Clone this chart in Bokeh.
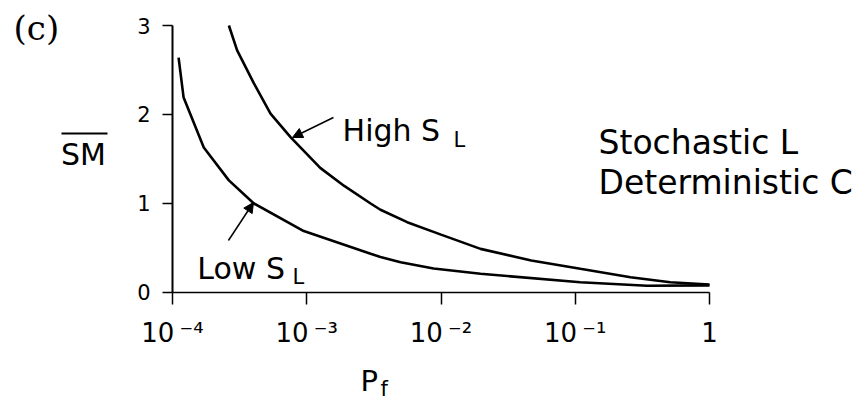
from bokeh.plotting import figure
from bokeh.models import FixedTicker, Label, Arrow, NormalHead, Range1d
from bokeh.embed import file_html
from bokeh.resources import INLINE

# ---- data ----
high_P = [2.63e-4, 3.03e-4, 4.04e-4, 5.37e-4, 7.57e-4, 1.26e-3, 1.89e-3, 2.99e-3, 3.54e-3,
          5.6e-3, 1.0e-2, 1.97e-2, 4.7e-2, 0.109, 0.258, 0.51, 1.0]
high_SM = [3.0, 2.72, 2.35, 2.01, 1.745, 1.40, 1.20, 1.00, 0.93,
           0.79, 0.65, 0.49, 0.36, 0.266, 0.172, 0.116, 0.09]

low_P = [1.11e-4, 1.21e-4, 1.71e-4, 2.63e-4, 4.04e-4, 9.5e-4, 2.99e-3, 3.54e-3, 5.0e-3,
         8.8e-3, 1.97e-2, 0.109, 0.343, 1.0]
low_SM = [2.64, 2.19, 1.63, 1.26, 1.00, 0.69, 0.435, 0.40, 0.34,
          0.27, 0.21, 0.116, 0.075, 0.08]

x_ticks = [1e-4, 1e-3, 1e-2, 1e-1, 1.0]
x_tick_labels = ["10\u2009\u207b\u2074", "10\u2009\u207b\u00b3", "10\u2009\u207b\u00b2", "10\u2009\u207b\u00b9", "1"]
y_ticks = [0, 1, 2, 3]

FONT = "DejaVu Sans"

# frame covers the whole canvas; axes are pinned with fixed_location
p = figure(width=861, height=400, x_axis_type="log",
           x_range=Range1d(10 ** -5.2812, 10 ** 1.1322),
           y_range=Range1d(-1.2135, 3.2809),
           output_backend="svg", toolbar_location=None, min_border=0)
p.grid.visible = False
p.outline_line_color = None
p.background_fill_color = "white"
p.border_fill_color = "white"

p.line(high_P, high_SM, line_color="black", line_width=2.6)
p.line(low_P, low_SM, line_color="black", line_width=2.6)

xa = p.xaxis[0]
xa.fixed_location = 0
xa.bounds = (x_ticks[0], x_ticks[-1])
xa.ticker = FixedTicker(ticks=x_ticks, minor_ticks=[])
xa.major_label_overrides = dict(zip(x_ticks, x_tick_labels))
xa.axis_line_color = "black"
xa.axis_line_width = 1.5
xa.major_tick_line_width = 1.5
xa.major_tick_out = 12
xa.major_tick_in = 0
xa.minor_tick_out = 0
xa.minor_tick_in = 0
xa.major_label_standoff = 14
xa.major_label_text_font = FONT
xa.major_label_text_font_size = "26px"
xa.major_label_text_color = "black"

ya = p.yaxis[0]
ya.fixed_location = x_ticks[0]
ya.bounds = (y_ticks[0], y_ticks[-1])
ya.ticker = FixedTicker(ticks=y_ticks, minor_ticks=[])
ya.axis_line_color = "black"
ya.axis_line_width = 2
ya.major_tick_line_width = 1.5
ya.major_tick_out = 10
ya.major_tick_in = 0
ya.minor_tick_out = 0
ya.minor_tick_in = 0
ya.major_label_standoff = 12
ya.major_label_text_font = FONT
ya.major_label_text_font_size = "21px"
ya.major_label_text_color = "black"


def lab(x, y, text, size, align="left", baseline="alphabetic", font=FONT):
    p.add_layout(Label(x=x, y=y, text=text, text_font=font, text_font_size=size,
                       text_align=align, text_baseline=baseline, text_color="black"))


lab(6.55e-6, 2.97, "(c)", "34px", baseline="middle", font="DejaVu Serif")
lab(2.17e-5, 1.55, "SM", "30px", align="center", baseline="middle")
# overline of the y-axis symbol
p.add_layout(Arrow(end=None, x_start=1.49e-5, y_start=1.787, x_end=3.28e-5, y_end=1.787,
                   line_width=2, line_color="black"))
lab(1.85e-3, 1.82, "High S", "30px")
lab(1.24e-2, 1.708, "L", "21px")
lab(1.53e-4, 0.27, "Low S", "30px")
lab(7.83e-4, 0.169, "L", "21px")
lab(0.149, 1.685, "Stochastic L", "33px")
lab(0.149, 1.236, "Deterministic C", "33px")
lab(2.51e-3, -1.0, "P", "29px")
lab(3.54e-3, -1.079, "f", "21px")

p.add_layout(Arrow(end=NormalHead(size=10, fill_color="black", line_color="black"),
                   x_start=1.58e-3, y_start=1.966, x_end=7.83e-4, y_end=1.742,
                   line_width=1.5, line_color="black"))
p.add_layout(Arrow(end=NormalHead(size=10, fill_color="black", line_color="black"),
                   x_start=2.61e-4, y_start=0.584, x_end=4.01e-4, y_end=1.011,
                   line_width=1.5, line_color="black"))

open("out.html", "w").write(file_html(p, INLINE))
